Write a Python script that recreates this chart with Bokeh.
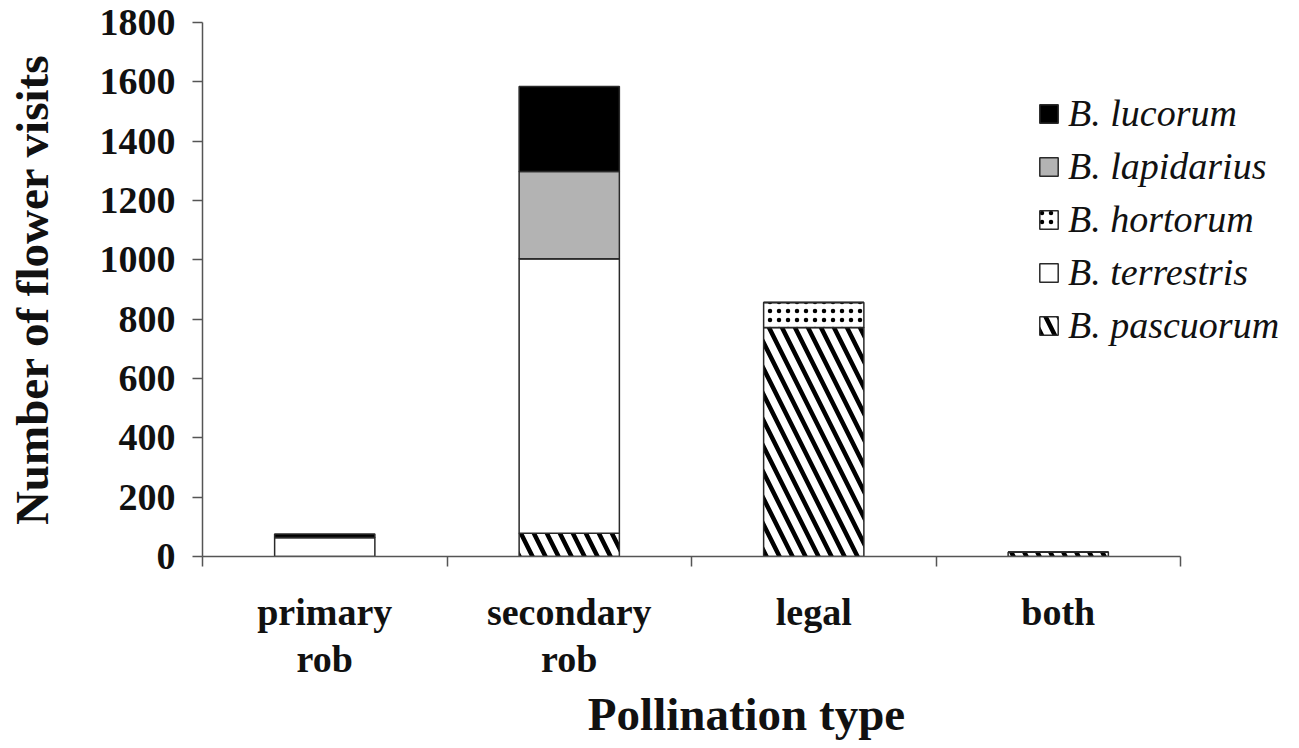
from bokeh.plotting import figure
from bokeh.models import FixedTicker, Legend, LegendItem, ColumnDataSource, Range1d
from bokeh.embed import file_html
from bokeh.resources import INLINE

categories = ["primary\nrob", "secondary\nrob", "legal", "both"]
species = ["B. pascuorum", "B. terrestris", "B. hortorum", "B. lapidarius", "B. lucorum"]
pascuorum = [0, 78, 772, 14]
terrestris = [64, 926, 0, 0]
hortorum = [0, 0, 84, 0]
lapidarius = [0, 294, 0, 0]
lucorum = [12, 286, 0, 0]
y_ticks = [0, 200, 400, 600, 800, 1000, 1200, 1400, 1600, 1800]

n = len(categories)
xpos = [i + 0.5 for i in range(n)]
keys = ["pascuorum", "terrestris", "hortorum", "lapidarius", "lucorum"]
source = ColumnDataSource(dict(x=xpos, pascuorum=pascuorum, terrestris=terrestris,
                               hortorum=hortorum, lapidarius=lapidarius, lucorum=lucorum))

FONT = "Liberation Serif"

# frame extends past the last category to leave room for the legend
p = figure(frame_width=1088, frame_height=534, output_backend="svg", toolbar_location=None,
           x_range=Range1d(0, n * 1088 / 978), y_range=Range1d(0, 1800),
           min_border_left=202, min_border_top=22, min_border_right=4, min_border_bottom=4)
p.outline_line_color = None
p.xgrid.grid_line_color = None
p.ygrid.grid_line_color = None

fills = ["white", "white", "white", "#b3b3b3", "black"]
hatches = ["\\", " ", ".", " ", " "]
hscale = [26, 12, 9, 12, 12]
hweight = [4.5, 1, 0.8, 1, 1]

rs = p.vbar_stack(keys, x="x", width=0.41, source=source, fill_color=fills,
                  line_color="#2a2a2a", line_width=1.5,
                  hatch_pattern=hatches, hatch_color="black", hatch_scale=hscale, hatch_weight=hweight)

items = [LegendItem(label=species[i], renderers=[rs[i]]) for i in range(len(keys))][::-1]
legend = Legend(items=items, location=(835, 209), padding=0, margin=0,
                glyph_width=23, glyph_height=23, label_height=23, spacing=9,
                label_standoff=8, label_text_font=FONT, label_text_font_style="italic",
                label_text_font_size="38px", label_text_color="#111111",
                border_line_color=None, background_fill_alpha=0)
p.add_layout(legend, "center")

# x axis
xa = p.xaxis[0]
xa.bounds = (0, n)
xa.ticker = FixedTicker(ticks=xpos, minor_ticks=list(range(n + 1)))
xa.major_label_overrides = {x: c for x, c in zip(xpos, categories)}
xa.major_tick_out = 0
xa.major_tick_in = 0
xa.minor_tick_out = 10
xa.minor_tick_in = 0
xa.major_label_standoff = 24
xa.major_label_text_font = FONT
xa.major_label_text_font_style = "bold"
xa.major_label_text_font_size = "38px"
xa.major_label_text_line_height = 1.12
xa.major_label_text_color = "#111111"
xa.axis_label = "Pollination type"
xa.axis_label_text_font = FONT
xa.axis_label_text_font_style = "bold"
xa.axis_label_text_font_size = "47px"
xa.axis_label_text_color = "#111111"
xa.axis_label_standoff = 5
xa.axis_line_color = "#555555"
xa.axis_line_width = 1.5
xa.minor_tick_line_color = "#555555"
xa.minor_tick_line_width = 1.5

# y axis
ya = p.yaxis[0]
ya.ticker = FixedTicker(ticks=y_ticks)
ya.major_tick_out = 10
ya.major_tick_in = 0
ya.minor_tick_line_color = None
ya.major_label_standoff = 17
ya.major_label_text_font = FONT
ya.major_label_text_font_style = "bold"
ya.major_label_text_font_size = "38px"
ya.major_label_text_color = "#111111"
ya.axis_label = "Number of flower visits"
ya.axis_label_text_font = FONT
ya.axis_label_text_font_style = "bold"
ya.axis_label_text_font_size = "47px"
ya.axis_label_text_color = "#111111"
ya.axis_label_standoff = 39
ya.axis_line_color = "#555555"
ya.axis_line_width = 1.5
ya.major_tick_line_color = "#555555"
ya.major_tick_line_width = 1.5

open("out.html", "w").write(file_html(p, INLINE))
